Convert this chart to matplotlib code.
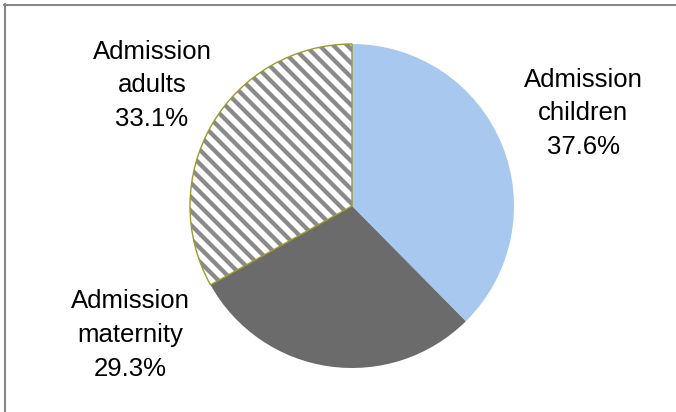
import matplotlib
matplotlib.use("Agg")
import numpy as np
import matplotlib.pyplot as plt
from matplotlib.patches import Wedge
from matplotlib.lines import Line2D

plt.rcParams['font.family'] = ['Liberation Sans', 'DejaVu Sans']

# data
labels = ["Admission\nchildren", "Admission\nmaternity", "Admission\nadults"]
values = [37.6, 29.3, 33.1]
colors = ["#A8C8EF", "#6B6B6B", "white"]
label_pos = [(583, 113), (130, 335), (152, 85)]  # pixel centres of text

W, H = 676, 412
fig = plt.figure(figsize=(W / 100, H / 100), dpi=100)
ax = fig.add_axes([0, 0, 1, 1])

cx, cy, r = 352, H - 206, 162
wedges, _ = ax.pie(values, colors=colors, startangle=90, counterclock=False,
                   center=(cx, cy), radius=r, frame=True,
                   wedgeprops=dict(linewidth=0))
ax.set_xlim(0, W)
ax.set_ylim(0, H)
ax.set_aspect("equal")
ax.axis("off")

# diagonal stripes inside the adults slice, olive outline on top
adults = wedges[2]
step = 14
for c in np.arange(0, W + H + step, step):
    ln, = ax.plot([c - H, c], [H, 0], color="#8A8A8A", lw=3.1,
                  solid_capstyle="butt", zorder=2)
    ln.set_clip_path(adults)
outline = Wedge(adults.center, adults.r, adults.theta1, adults.theta2,
                fill=False, edgecolor="#9C9A2C", linewidth=1.0, zorder=3)
ax.add_patch(outline)

for lab, v, (x, y) in zip(labels, values, label_pos):
    ax.text(x, H - y, f"{lab}\n{v:.1f}%", ha="center", va="center",
            fontsize=18.5, linespacing=1.5, color="black")

# chart border (top and left visible)
fig.add_artist(Line2D([4 / W, 1], [1 - 4.5 / H, 1 - 4.5 / H], color="#888888", lw=1.5))
fig.add_artist(Line2D([4.5 / W, 4.5 / W], [0, 1 - 4 / H], color="#888888", lw=1.5))

fig.savefig("out.png", dpi=100)
